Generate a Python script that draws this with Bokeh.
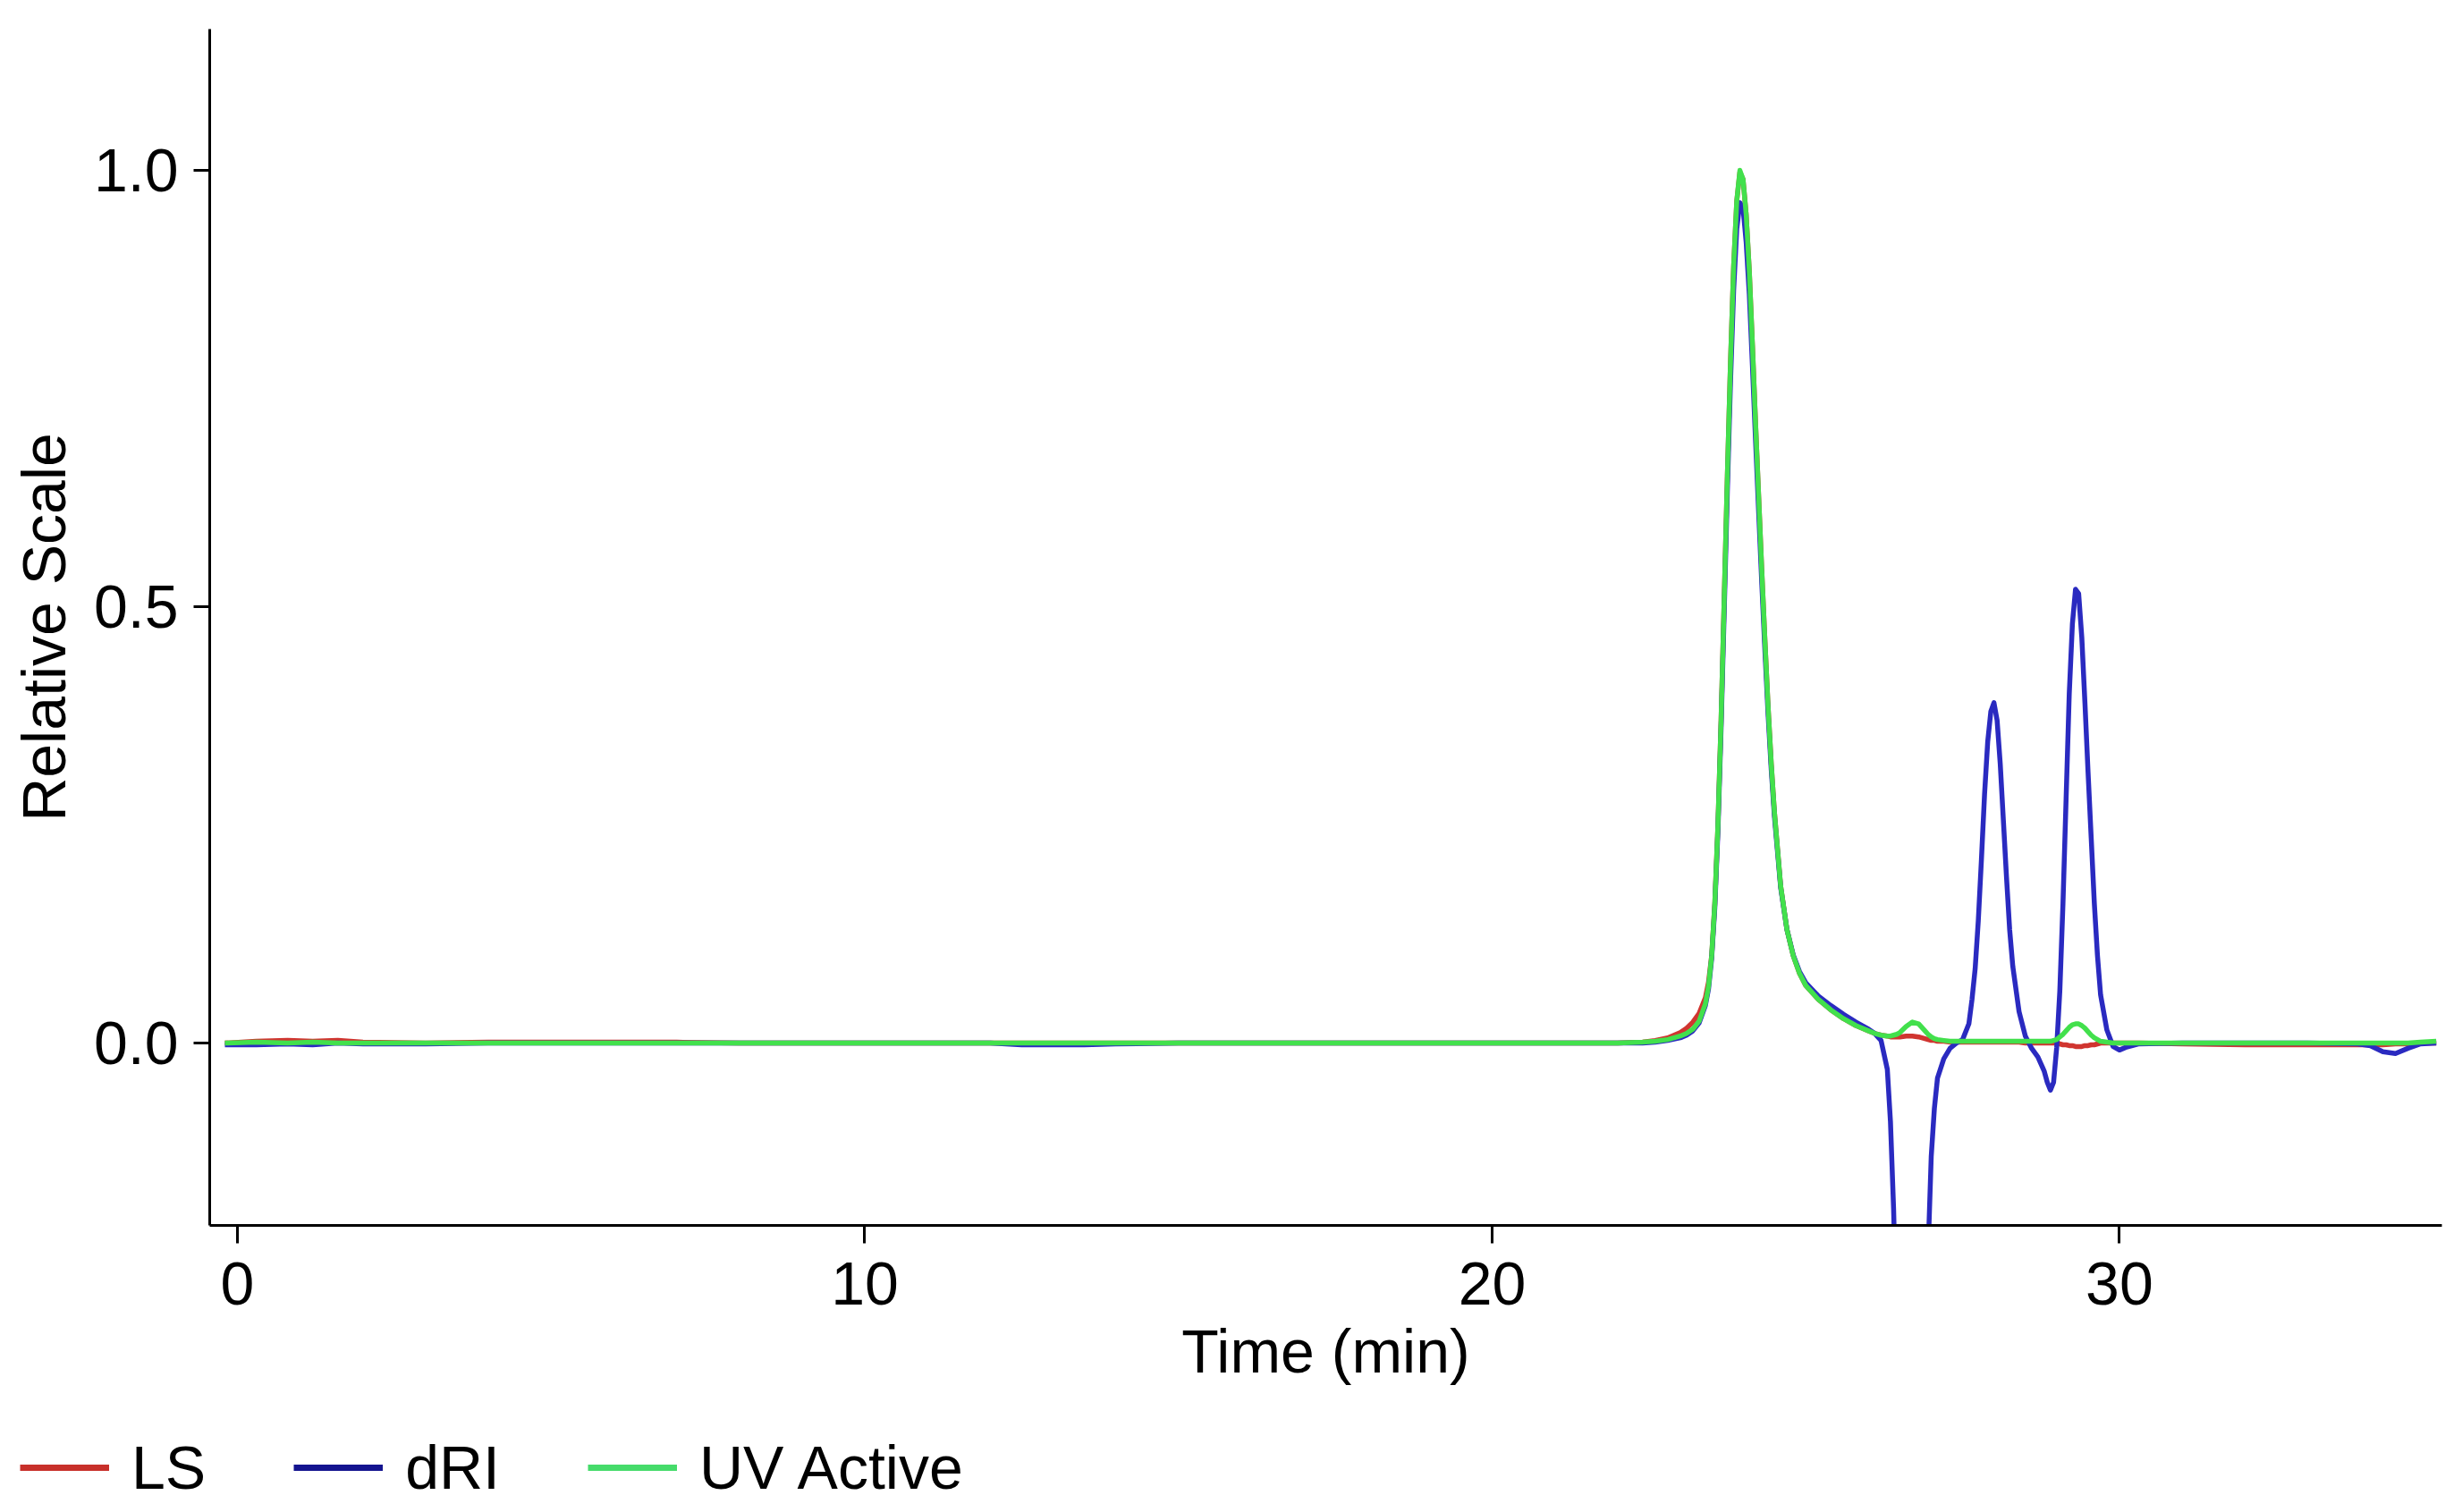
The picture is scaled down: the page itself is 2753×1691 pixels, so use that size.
from bokeh.plotting import figure
from bokeh.layouts import column
from bokeh.models import (Range1d, FixedTicker, PrintfTickFormatter, Legend,
                          LegendItem, ColumnDataSource)
from bokeh.embed import file_html
from bokeh.resources import INLINE

# ---------------- data ----------------
time_min = [
    -0.2, 0.3, 0.8, 1.2, 1.6, 2.0, 3.0, 4.0, 5.0, 6.0,
    7.0, 8.0, 10.0, 12.0, 12.5, 13.0, 13.5, 14.0, 15.0, 17.0,
    19.0, 21.0, 22.0, 22.4, 22.6, 22.8, 23.0, 23.1, 23.2, 23.3,
    23.4, 23.45, 23.5, 23.55, 23.6, 23.65, 23.7, 23.75, 23.8, 23.85,
    23.9, 23.95, 24.0, 24.05, 24.1, 24.15, 24.2, 24.25, 24.3, 24.35,
    24.4, 24.45, 24.5, 24.6, 24.7, 24.8, 24.9, 25.0, 25.2, 25.4,
    25.6, 25.8, 26.0, 26.1, 26.2, 26.3, 26.35, 26.4, 26.45, 26.5,
    26.6, 26.7, 26.8, 26.9, 26.95, 27.0, 27.05, 27.1, 27.2, 27.3,
    27.4, 27.5, 27.6, 27.65, 27.7, 27.75, 27.8, 27.85, 27.9, 27.95,
    28.0, 28.05, 28.1, 28.15, 28.2, 28.25, 28.3, 28.4, 28.5, 28.6,
    28.7, 28.8, 28.85, 28.9, 28.95, 29.0, 29.05, 29.1, 29.15, 29.2,
    29.25, 29.3, 29.35, 29.4, 29.45, 29.5, 29.55, 29.6, 29.65, 29.7,
    29.8, 29.9, 30.0, 30.1, 30.3, 31.0, 32.0, 33.0, 33.8, 34.0,
    34.2, 34.4, 34.6, 34.8, 35.05,
]

ls_signal = [
    0.0, 0.002, 0.003, 0.002, 0.003, 0.001, 0.0, 0.001, 0.001, 0.001,
    0.001, 0.0, 0.0, 0.0, 0.0, 0.0, 0.0, 0.0, 0.0, 0.0,
    0.0, 0.0, 0.0, 0.001, 0.003, 0.006, 0.012, 0.017, 0.024, 0.034,
    0.052, 0.07, 0.10, 0.16, 0.25, 0.37, 0.51, 0.65, 0.78, 0.89,
    0.965, 0.998, 0.99, 0.95, 0.885, 0.80, 0.71, 0.625, 0.54, 0.46,
    0.385, 0.32, 0.265, 0.18, 0.13, 0.10, 0.08, 0.066, 0.05, 0.038,
    0.028, 0.02, 0.014, 0.011, 0.009, 0.008, 0.007, 0.007, 0.007, 0.007,
    0.008, 0.008, 0.007, 0.005, 0.004, 0.003, 0.003, 0.002, 0.002, 0.001,
    0.001, 0.001, 0.001, 0.001, 0.001, 0.001, 0.001, 0.001, 0.001, 0.001,
    0.001, 0.001, 0.001, 0.001, 0.001, 0.001, 0.001, 0.001, 0.0, 0.0,
    0.0, 0.0, 0.0, 0.0, 0.0, 0.0, -0.001, -0.002, -0.002, -0.003,
    -0.003, -0.004, -0.004, -0.004, -0.003, -0.003, -0.002, -0.002, -0.001, 0.0,
    0.0, 0.0, 0.0, 0.0, 0.0, -0.001, -0.002, -0.002, -0.002, -0.002,
    -0.002, -0.001, -0.001, 0.0, 0.0,
]

dri_signal = [
    -0.002, -0.002, -0.001, -0.002, 0.0, -0.001, -0.001, 0.0, 0.0, 0.0,
    0.0, 0.0, 0.0, 0.0, -0.002, -0.002, -0.002, -0.001, 0.0, 0.0,
    0.0, 0.0, 0.0, 0.0, 0.001, 0.003, 0.006, 0.009, 0.014, 0.023,
    0.043, 0.062, 0.097, 0.155, 0.243, 0.36, 0.495, 0.632, 0.757, 0.862,
    0.933, 0.963, 0.957, 0.918, 0.858, 0.776, 0.69, 0.607, 0.525, 0.448,
    0.376, 0.313, 0.26, 0.178, 0.13, 0.101, 0.082, 0.069, 0.054, 0.043,
    0.033, 0.024, 0.016, 0.011, 0.003, -0.03, -0.09, -0.19, -0.33, -0.55,
    -0.95, -1.1, -0.95, -0.45, -0.24, -0.13, -0.075, -0.04, -0.018, -0.006,
    0.0, 0.004, 0.022, 0.05, 0.085, 0.14, 0.21, 0.285, 0.345, 0.38,
    0.39, 0.37, 0.32, 0.255, 0.19, 0.13, 0.088, 0.036, 0.008, -0.006,
    -0.016, -0.032, -0.045, -0.054, -0.045, -0.005, 0.06, 0.16, 0.28, 0.40,
    0.48, 0.52, 0.515, 0.465, 0.39, 0.31, 0.235, 0.16, 0.10, 0.055,
    0.015, -0.004, -0.008, -0.005, -0.001, 0.0, 0.0, 0.0, -0.001, -0.003,
    -0.01, -0.012, -0.006, -0.001, 0.0,
]

uv_signal = [
    0.0, 0.001, 0.0, 0.001, 0.0, 0.0, 0.0, 0.0, 0.0, 0.0,
    0.0, 0.0, 0.0, 0.0, 0.0, 0.0, 0.0, 0.0, 0.0, 0.0,
    0.0, 0.0, 0.0, 0.001, 0.002, 0.004, 0.008, 0.011, 0.016, 0.025,
    0.045, 0.065, 0.10, 0.16, 0.25, 0.37, 0.51, 0.65, 0.78, 0.89,
    0.965, 1.0, 0.99, 0.95, 0.885, 0.80, 0.71, 0.625, 0.54, 0.46,
    0.385, 0.32, 0.265, 0.18, 0.13, 0.10, 0.08, 0.066, 0.05, 0.038,
    0.028, 0.02, 0.014, 0.011, 0.009, 0.008, 0.008, 0.009, 0.01, 0.012,
    0.019, 0.024, 0.022, 0.014, 0.01, 0.007, 0.005, 0.004, 0.003, 0.002,
    0.002, 0.002, 0.002, 0.002, 0.002, 0.002, 0.002, 0.002, 0.002, 0.002,
    0.002, 0.002, 0.002, 0.002, 0.002, 0.002, 0.002, 0.002, 0.002, 0.002,
    0.002, 0.002, 0.002, 0.002, 0.003, 0.004, 0.007, 0.01, 0.014, 0.018,
    0.021, 0.022, 0.022, 0.02, 0.017, 0.013, 0.009, 0.006, 0.004, 0.002,
    0.001, 0.0, 0.0, 0.0, 0.0, 0.0, 0.0, 0.0, 0.0, 0.0,
    0.0, 0.0, 0.0, 0.001, 0.002,
]

series_names = ["LS", "dRI", "UV Active"]
series_cols = ["ls", "dri", "uv"]
series_colors = ["#d03530", "#2a2ac0", "#42e04c"]
legend_colors = ["#c8302a", "#14148f", "#45db6a"]
x_ticks = [0, 10, 20, 30]
y_ticks = [0.0, 0.5, 1.0]

assert len(time_min) == len(ls_signal) == len(dri_signal) == len(uv_signal)

FONT = "Liberation Sans"
FS = "68px"
W = 2745

p = figure(width=W, height=1580, output_backend="svg", toolbar_location=None,
           x_range=Range1d(-0.442, 35.14), y_range=Range1d(-0.209, 1.162),
           min_border_left=234, min_border_right=15, min_border_top=32,
           min_border_bottom=210)
p.frame_align = False
p.grid.visible = False
p.outline_line_color = None
p.background_fill_color = "white"

src = ColumnDataSource(dict(t=time_min, ls=ls_signal, dri=dri_signal, uv=uv_signal))
for col, color in zip(series_cols, series_colors):
    p.line("t", col, source=src, line_color=color, line_width=5.5, line_join="round")

# axes
for ax in (p.xaxis[0], p.yaxis[0]):
    ax.axis_line_width = 3
    ax.axis_line_color = "black"
    ax.major_tick_line_width = 3
    ax.major_tick_line_color = "black"
    ax.major_tick_in = 0
    ax.minor_tick_line_color = None
    ax.major_label_text_font = FONT
    ax.major_label_text_font_size = FS
    ax.major_label_text_color = "black"
    ax.axis_label_text_font = FONT
    ax.axis_label_text_font_size = FS
    ax.axis_label_text_font_style = "normal"
    ax.axis_label_text_color = "black"

p.xaxis.ticker = FixedTicker(ticks=x_ticks)
p.xaxis.major_tick_out = 20
p.xaxis.major_label_standoff = 21
p.xaxis.axis_label = "Time (min)"
p.xaxis.axis_label_standoff = 11

p.yaxis.ticker = FixedTicker(ticks=y_ticks)
p.yaxis.formatter = PrintfTickFormatter(format="%.1f")
p.yaxis.major_tick_out = 18
p.yaxis.major_label_standoff = 17
p.yaxis.axis_label = "Relative Scale"
p.yaxis.axis_label_standoff = 15

# legend strip below the chart (its lines reuse the same data, out of view)
lg = figure(width=W, height=103, output_backend="svg", toolbar_location=None,
            x_range=Range1d(100, 101), y_range=Range1d(100, 101),
            x_axis_type=None, y_axis_type=None,
            min_border_left=0, min_border_right=0, min_border_top=0,
            min_border_bottom=0)
lg.frame_align = False
lg.grid.visible = False
lg.outline_line_color = None
proxies = [lg.line("t", col, source=src, line_color=c, line_width=7)
           for col, c in zip(series_cols, legend_colors)]

legend = Legend(
    items=[LegendItem(label=n, renderers=[r]) for n, r in zip(series_names, proxies)],
    orientation="horizontal", location="top_left", margin=22, padding=0,
    spacing=98, label_standoff=25, glyph_width=100, glyph_height=76,
    label_height=76,
    label_text_font=FONT, label_text_font_size=FS, label_text_color="black",
    border_line_alpha=0, background_fill_alpha=0,
)
lg.add_layout(legend)

open("out.html", "w").write(file_html(column(p, lg, spacing=0), INLINE))
